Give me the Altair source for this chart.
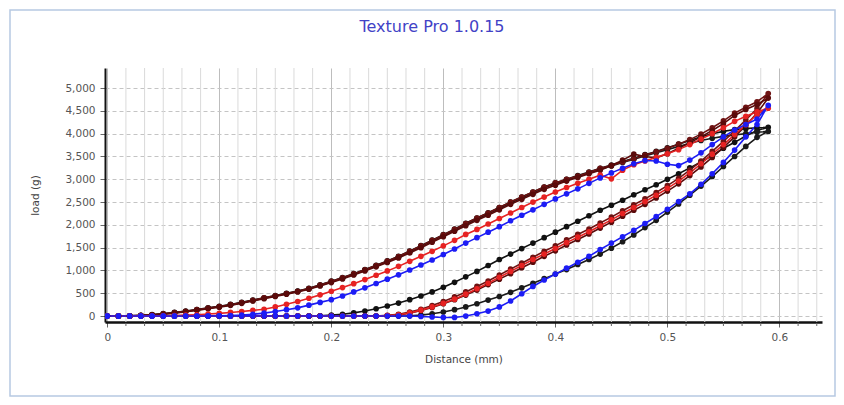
import altair as alt
import pandas as pd

TITLE = "Texture Pro 1.0.15"
X_TITLE = "Distance (mm)"
Y_TITLE = "load (g)"

X_TICKS = [0, 0.1, 0.2, 0.3, 0.4, 0.5, 0.6]
Y_TICKS = [0, 500, 1000, 1500, 2000, 2500, 3000, 3500, 4000, 4500, 5000]

# distance samples: loading (0 -> 0.59) then unloading (0.58 -> 0)
DIST_UP = [0.00, 0.01, 0.02, 0.03, 0.04, 0.05, 0.06, 0.07, 0.08, 0.09,
           0.10, 0.11, 0.12, 0.13, 0.14, 0.15, 0.16, 0.17, 0.18, 0.19,
           0.20, 0.21, 0.22, 0.23, 0.24, 0.25, 0.26, 0.27, 0.28, 0.29,
           0.30, 0.31, 0.32, 0.33, 0.34, 0.35, 0.36, 0.37, 0.38, 0.39,
           0.40, 0.41, 0.42, 0.43, 0.44, 0.45, 0.46, 0.47, 0.48, 0.49,
           0.50, 0.51, 0.52, 0.53, 0.54, 0.55, 0.56, 0.57, 0.58, 0.59]
DIST_DOWN = [0.58, 0.57, 0.56, 0.55, 0.54, 0.53, 0.52, 0.51, 0.50, 0.49,
             0.48, 0.47, 0.46, 0.45, 0.44, 0.43, 0.42, 0.41, 0.40, 0.39,
             0.38, 0.37, 0.36, 0.35, 0.34, 0.33, 0.32, 0.31, 0.30, 0.29,
             0.28, 0.27, 0.26, 0.25, 0.24, 0.23, 0.22, 0.21, 0.20, 0.19,
             0.18, 0.17, 0.16, 0.15, 0.14, 0.13, 0.12, 0.11, 0.10, 0.09,
             0.08, 0.07, 0.06, 0.05, 0.04, 0.03, 0.02, 0.01, 0.00]

SERIES = ["Test 1", "Test 2", "Test 3", "Test 4", "Test 5", "Test 6"]
COLORS = ["#111111", "#1a1a1a", "#6e1212", "#5a0a0a", "#e62222", "#1c1cf5"]

# Test 1 (black)
K1_UP = [0, 0, 5, 15, 35, 55, 80, 110, 145, 180,
         215, 255, 300, 350, 400, 450, 500, 550, 610, 685,
         765, 845, 930, 1020, 1115, 1210, 1310, 1425, 1545, 1665,
         1785, 1905, 2035, 2150, 2265, 2380, 2500, 2610, 2720, 2830,
         2920, 3000, 3080, 3160, 3240, 3310, 3390, 3460, 3540, 3610,
         3690, 3770, 3850, 3930, 4000, 4050, 4090, 4110, 4130, 4140]
K1_DOWN = [4070, 3950, 3810, 3680, 3520, 3380, 3250, 3120, 3000, 2880,
           2770, 2660, 2540, 2430, 2320, 2200, 2080, 1960, 1840, 1720,
           1600, 1480, 1360, 1240, 1110, 980, 860, 740, 630, 530,
           440, 360, 285, 220, 160, 110, 70, 40, 20, 5,
           0, 0, 0, 0, 0, 0, 0, 0, 0, 0,
           0, 0, 0, 0, 0, 0, 0, 0, 0]

# Test 2 (black)
K2_UP = [0, 0, 0, 10, 25, 45, 70, 100, 135, 170,
         205, 245, 290, 340, 390, 440, 490, 540, 600, 670,
         750, 830, 915, 1005, 1100, 1195, 1295, 1405, 1525, 1645,
         1765, 1885, 2010, 2130, 2240, 2360, 2480, 2590, 2700, 2810,
         2900, 2980, 3060, 3140, 3220, 3290, 3370, 3440, 3510, 3580,
         3650, 3720, 3790, 3850, 3900, 3940, 3970, 4000, 4030, 4050]
K2_DOWN = [3920, 3720, 3500, 3280, 3060, 2850, 2650, 2460, 2280, 2100,
           1940, 1780, 1630, 1490, 1360, 1240, 1130, 1020, 920, 820,
           720, 620, 520, 430, 350, 270, 200, 140, 90, 50,
           20, 5, 0, 0, 0, 0, 0, 0, 0, 0,
           0, 0, 0, 0, 0, 0, 0, 0, 0, 0,
           0, 0, 0, 0, 0, 0, 0, 0, 0]

# Test 3 (dark red)
M1_UP = [0, 0, 5, 15, 30, 50, 75, 105, 140, 175,
         210, 250, 295, 345, 400, 445, 495, 545, 605, 680,
         760, 840, 925, 1015, 1110, 1205, 1305, 1420, 1540, 1660,
         1780, 1900, 2030, 2150, 2260, 2380, 2500, 2610, 2720, 2830,
         2920, 3000, 3070, 3150, 3240, 3300, 3380, 3450, 3530, 3600,
         3680, 3770, 3870, 3990, 4130, 4280, 4450, 4580, 4700, 4880]
M1_DOWN = [4550, 4300, 4060, 3830, 3610, 3400, 3200, 3020, 2860, 2710,
           2570, 2440, 2310, 2170, 2040, 1910, 1790, 1670, 1540, 1420,
           1290, 1160, 1030, 900, 770, 650, 530, 420, 320, 230,
           150, 90, 40, 15, 0, 0, 0, 0, 0, 0,
           0, 0, 0, 0, 0, 0, 0, 0, 0, 0,
           0, 0, 0, 0, 0, 0, 0, 0, 0]

# Test 4 (dark red)
M2_UP = [0, 0, 0, 10, 25, 40, 65, 95, 125, 160,
         195, 235, 280, 330, 380, 430, 480, 530, 590, 660,
         735, 815, 900, 990, 1080, 1175, 1275, 1385, 1500, 1620,
         1740, 1860, 1980, 2100, 2210, 2330, 2450, 2560, 2670, 2780,
         2870, 2960, 3040, 3120, 3200, 3300, 3420, 3550, 3500, 3470,
         3560, 3680, 3800, 3930, 4070, 4220, 4400, 4530, 4640, 4780]
M2_DOWN = [4450, 4180, 3930, 3700, 3480, 3270, 3080, 2900, 2740, 2590,
           2450, 2320, 2190, 2060, 1930, 1800, 1680, 1560, 1430, 1310,
           1180, 1060, 930, 810, 690, 570, 460, 360, 270, 190,
           120, 60, 25, 5, 0, 0, 0, 0, 0, 0,
           0, 0, 0, 0, 0, 0, 0, 0, 0, 0,
           0, 0, 0, 0, 0, 0, 0, 0, 0]

# Test 5 (red)
R_UP = [0, 0, 0, 0, 0, 5, 10, 20, 30, 45,
        60, 80, 100, 125, 150, 200, 260, 320, 390, 465,
        545, 625, 710, 800, 895, 990, 1090, 1200, 1310, 1420,
        1540, 1660, 1790, 1900, 2020, 2140, 2260, 2380, 2500, 2610,
        2720, 2820, 2910, 3000, 3090, 3010, 3200, 3320, 3400, 3480,
        3560, 3650, 3760, 3880, 4000, 4130, 4270, 4380, 4480, 4560]
R_DOWN = [4420, 4200, 3980, 3760, 3550, 3340, 3140, 2960, 2800, 2650,
          2510, 2380, 2250, 2110, 1980, 1850, 1730, 1610, 1480, 1360,
          1240, 1110, 980, 850, 720, 600, 480, 370, 280, 200,
          130, 70, 30, 10, 0, 0, 0, 0, 0, 0,
          0, 0, 0, 0, 0, 0, 0, 0, 0, 0,
          0, 0, 0, 0, 0, 0, 0, 0, 0]

# Test 6 (blue)
B_UP = [0, 0, 0, 0, 0, 0, 0, 0, 0, 0,
        5, 10, 20, 40, 65, 100, 140, 180, 240, 300,
        360, 440, 530, 620, 715, 810, 905, 1010, 1120, 1230,
        1350, 1470, 1600, 1720, 1840, 1960, 2090, 2210, 2330, 2450,
        2570, 2680, 2790, 2910, 3030, 3140, 3240, 3340, 3410, 3400,
        3330, 3300, 3420, 3580, 3760, 3930, 4080, 4200, 4320, 4620]
B_DOWN = [4200, 3930, 3640, 3370, 3120, 2890, 2680, 2510, 2340, 2180,
          2030, 1880, 1740, 1600, 1460, 1310, 1180, 1050, 920, 790,
          650, 490, 330, 200, 110, 50, 0, -30, -30, -20,
          -10, 0, 0, 0, 0, 0, 0, 0, 0, 0,
          0, 0, 0, 0, 0, 0, 0, 0, 0, 0,
          0, 0, 0, 0, 0, 0, 0, 0, 0]

LOADS = [(K1_UP, K1_DOWN), (K2_UP, K2_DOWN), (M1_UP, M1_DOWN),
         (M2_UP, M2_DOWN), (R_UP, R_DOWN), (B_UP, B_DOWN)]

rows = []
for s_i, (name, (up, down)) in enumerate(zip(SERIES, LOADS)):
    dist = DIST_UP + DIST_DOWN
    vals = up + down
    for i, (d, v) in enumerate(zip(dist, vals)):
        rows.append({"series": name, "idx": i, "z": s_i * 1000 + i,
                     "distance": d, "load": v})
df = pd.DataFrame(rows)

MINOR_X = [i / 60 for i in range(1, 39) if i % 6]
minor_df = pd.DataFrame({"distance": MINOR_X})

W, H = 717, 254
FONT = "DejaVu Sans"

x_scale = alt.Scale(domain=[-0.002, 0.638], nice=False, zero=False)
y_scale = alt.Scale(domain=[-130, 5440], nice=False, zero=False)

x_axis = alt.Axis(values=X_TICKS, format=".1~f", title=X_TITLE,
                  domainColor="#111111", domainWidth=2.5,
                  tickColor="#666666", tickSize=5, tickWidth=1,
                  labelFont=FONT, labelFontSize=10.5, labelColor="#555555",
                  labelPadding=5,
                  titleFont=FONT, titleFontSize=10.5, titleColor="#444444",
                  titleFontWeight="normal", titlePadding=12,
                  grid=True, gridColor="#bdbdbd", gridWidth=1)
y_axis = alt.Axis(values=Y_TICKS, format=",d", title=Y_TITLE,
                  domainColor="#111111", domainWidth=2,
                  tickColor="#666666", tickSize=5, tickWidth=1,
                  labelFont=FONT, labelFontSize=10.5, labelColor="#555555",
                  labelPadding=5,
                  titleFont=FONT, titleFontSize=10.5, titleColor="#444444",
                  titleFontWeight="normal", titlePadding=24,
                  grid=True, gridColor="#c4c4c4", gridWidth=1, gridDash=[4, 3])

minor_grid = alt.Chart(minor_df).mark_rule(color="#dadada", strokeWidth=1).encode(
    x=alt.X("distance:Q", scale=x_scale, axis=x_axis)
)
minor_ticks = alt.Chart(minor_df).mark_rule(color="#666666", strokeWidth=1).encode(
    x=alt.X("distance:Q", scale=x_scale, axis=x_axis),
    y=alt.value(H + 1),
    y2=alt.value(H + 4),
)

base = alt.Chart(df).encode(
    x=alt.X("distance:Q", scale=x_scale, axis=x_axis),
    y=alt.Y("load:Q", scale=y_scale, axis=y_axis),
    color=alt.Color("series:N", scale=alt.Scale(domain=SERIES, range=COLORS), legend=None),
)
lines = base.mark_line(strokeWidth=1.6, clip=True).encode(order="idx:Q")
points = base.mark_circle(size=32, opacity=1, clip=True).encode(order="z:Q")

frame = alt.Chart(pd.DataFrame({"k": [0]})).mark_rect(
    fill="transparent", stroke="#b7c9e2", strokeWidth=1.5
).encode(
    x=alt.value(-95), x2=alt.value(730), y=alt.value(-58), y2=alt.value(328)
)

title = alt.Chart(pd.DataFrame({"t": [TITLE]})).mark_text(
    font=FONT, fontSize=16, color="#4242c6", align="center", baseline="middle"
).encode(
    text="t:N", x=alt.value(327), y=alt.value(-41)
)

chart = alt.layer(minor_grid, minor_ticks, lines, points, frame, title).properties(
    width=W, height=H,
    padding={"left": 97, "top": 60, "right": 14, "bottom": 75},
    autosize=alt.AutoSizeParams(type="none"),
    background="white",
).configure_view(strokeWidth=0)

chart.save("out.html", embed_options={"renderer": "svg", "actions": False})
